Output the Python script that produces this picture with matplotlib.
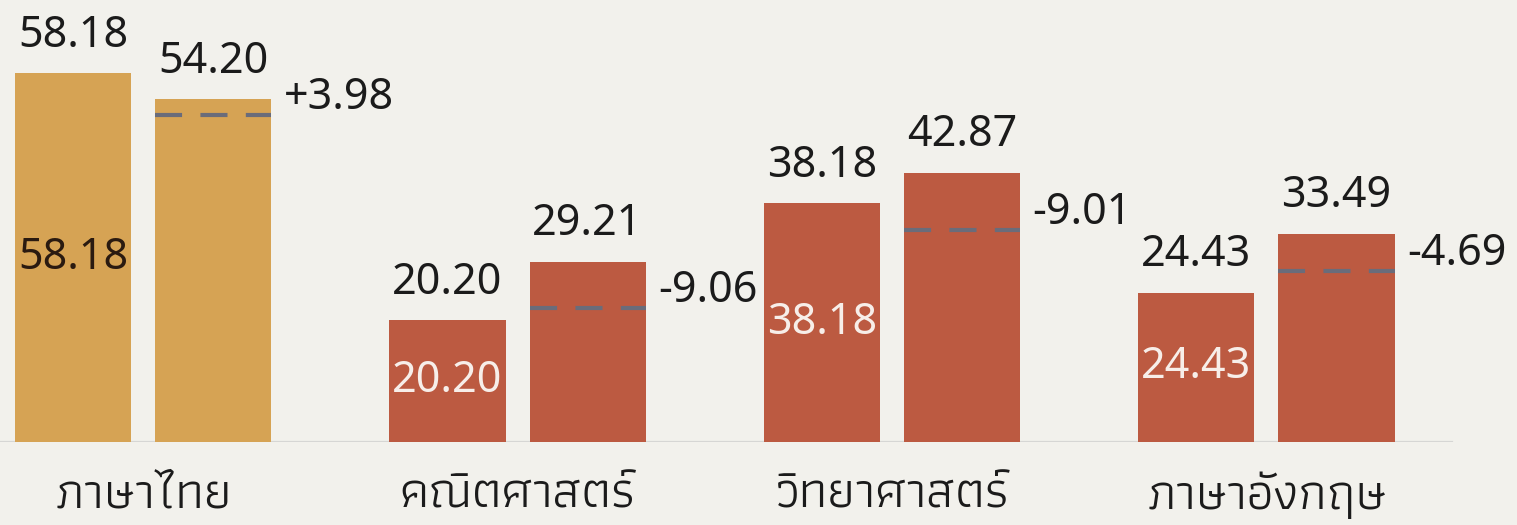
import matplotlib
matplotlib.use("Agg")
import matplotlib.pyplot as plt
from matplotlib import font_manager as fm

# ── data ─────────────────────────────────────────────────────────────────────
subjects = ["ภาษาไทย", "คณิตศาสตร์", "วิทยาศาสตร์", "ภาษาอังกฤษ"]
school = [58.18, 20.20, 38.18, 24.43]
compare = [54.20, 29.21, 42.87, 33.49]
reference = [51.8, 22.1, 34.1, 27.8]          # dashed marker inside 2nd bar
diff_labels = ["+3.98", "-9.06", "-9.01", "-4.69"]

# ── style ────────────────────────────────────────────────────────────────────
BG = "#F2F1EC"
C_GOLD = "#D6A354"
C_RED = "#BC5A41"
C_DASH = "#6A6C7A"
C_TEXT = "#1B1B1B"
Y0 = 1.42   # value at the baseline

names = {f.name for f in fm.fontManager.ttflist}


def pick(cands):
    for c in cands:
        if c in names:
            return c
    return "DejaVu Sans"


THAI = [pick(["Athiti", "Thasadith", "Noto Sans Thai", "Loma"]), "DejaVu Sans"]
NUM = [pick(["Noto Sans", "Open Sans"]), "DejaVu Sans"]
FS = 31

fig = plt.figure(figsize=(15.17, 5.25), dpi=100)
fig.patch.set_facecolor(BG)
ax = fig.add_axes([0, 83 / 525, 1, 442 / 525])
ax.set_facecolor(BG)
ax.set_xlim(-0.382, 3.669)
ax.set_ylim(Y0, 69.5)
for s in ax.spines.values():
    s.set_visible(False)
ax.tick_params(left=False, bottom=False, labelleft=False, labelbottom=False)

W = 0.31
OFF = 0.187
xs = list(range(len(subjects)))
colors = [C_GOLD] + [C_RED] * (len(subjects) - 1)

ax.bar([x - OFF for x in xs], [v - Y0 for v in school], bottom=Y0,
       width=W, color=colors, zorder=2)
ax.bar([x + OFF for x in xs], [v - Y0 for v in compare], bottom=Y0,
       width=W, color=colors, zorder=2)

# baseline
ax.axhline(Y0, xmin=0, xmax=1452 / 1517, color="#D6D6D4", lw=1.6, zorder=1)

for i, x in enumerate(xs):
    # dashed reference line inside second bar
    ax.plot([x + OFF - W / 2, x + OFF + W / 2], [reference[i]] * 2,
            color=C_DASH, lw=3, dashes=(6.5, 4.4), zorder=3)
    # value labels above bars
    ax.annotate(f"{school[i]:.2f}", (x - OFF, school[i]), xytext=(0, 27),
                textcoords="offset points", ha="center", va="center",
                fontsize=FS, color=C_TEXT, family=NUM)
    ax.annotate(f"{compare[i]:.2f}", (x + OFF, compare[i]), xytext=(0, 27),
                textcoords="offset points", ha="center", va="center",
                fontsize=FS, color=C_TEXT, family=NUM)
    # value inside first bar
    inner = "#2A1A10" if i == 0 else "#F7EEE9"
    ax.text(x - OFF, (school[i] + Y0) / 2, f"{school[i]:.2f}",
            ha="center", va="center", fontsize=FS, color=inner, family=NUM,
            zorder=4)
    # difference label right of second bar
    ax.annotate(diff_labels[i], (x + OFF + W / 2, reference[i]),
                xytext=(9, 12), textcoords="offset points",
                ha="left", va="center", fontsize=FS, color=C_TEXT, family=NUM)
    # subject label under the baseline
    ax.annotate(subjects[i], (x, Y0), xytext=(0, -38),
                textcoords="offset points", ha="center", va="center",
                fontsize=37, color=C_TEXT, family=THAI)

fig.savefig("out.png", dpi=100, facecolor=BG)
